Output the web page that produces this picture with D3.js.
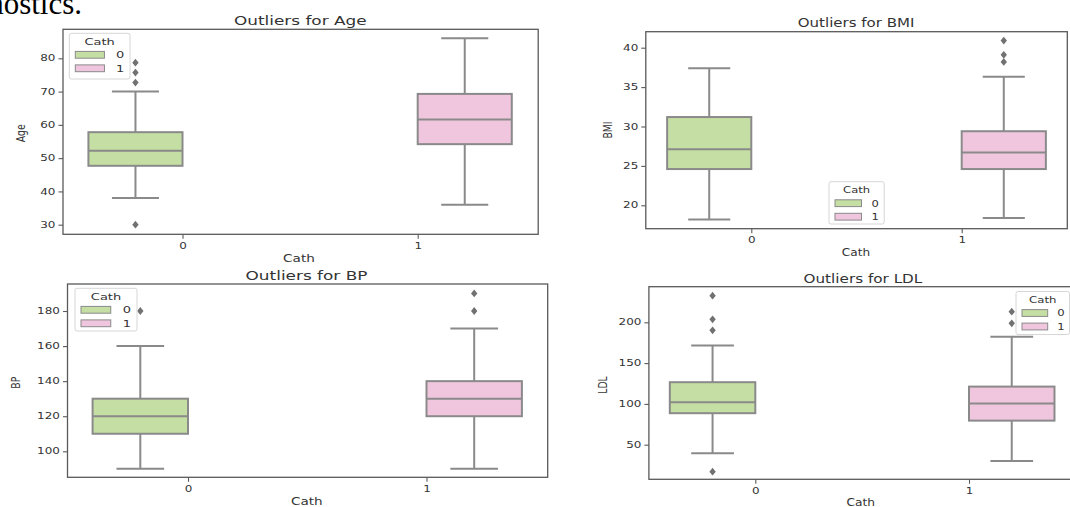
<!DOCTYPE html>
<html>
<head>
<meta charset="utf-8">
<script src="https://cdn.jsdelivr.net/npm/d3@7"></script>
<style>
  body { margin: 0; background: #fff; }
  svg { display: block; }
  text { font-family: 'DejaVu Sans', sans-serif; fill: #333; }
</style>
</head>
<body>
<div id="chart"></div>
<script>
// categories / hue
const cathCats = ['0', '1']
const hueColors = ['#c5dea3', '#f0c6df']

// box stats per Cath group: [lowWhisker, q1, median, q3, highWhisker]
const ageStats = [[38, 47.7, 52.2, 57.8, 70], [36, 54.2, 61.6, 69.3, 86]]
const ageFliers = [[78.7, 75.7, 72.7, 30], []]
const ageTicks = [30, 40, 50, 60, 70, 80]

const bmiStats = [[18.2, 24.6, 27.1, 31.2, 37.4], [18.4, 24.6, 26.7, 29.4, 36.3]]
const bmiFliers = [[], [40.9, 39.1, 38.2]]
const bmiTicks = [20, 25, 30, 35, 40]

const bpStats = [[90, 110, 120, 130, 160], [90, 120, 130, 140, 170]]
const bpFliers = [[180], [190, 180]]
const bpTicks = [100, 120, 140, 160, 180]

const ldlStats = [[39.5, 88.6, 102, 126.6, 171.6], [30, 79.5, 100.4, 121.2, 182.4]]
const ldlFliers = [[232.6, 203.7, 190.2, 16.9], [213, 198.8]]
const ldlTicks = [50, 100, 150, 200]

const width = 1070, height = 507

const svg = d3.select('#chart').append('svg')
  .attr('width', width)
  .attr('height', height)

// leftover paragraph text from the page above the figure
svg.append('text')
  .attr('x', 82).attr('y', 14)
  .attr('text-anchor', 'end')
  .style('font-family', "'Liberation Serif', serif")
  .style('fill', '#000')
  .attr('font-size', 31)
  .text('nostics.')

// layout of each subplot (pixels); k = how wide that subplot's text is drawn
const panels = [
  {name: 'Age', stats: ageStats, fliers: ageFliers, ticks: ageTicks, k: 1,
    frame: {l: 63, r: 538.2, t: 29.3, b: 234.3}, yRef: [30, 80], yPix: [224.7, 58.3], xPix: [182.5, 417.7],
    title: [300.3, 24.5], xlab: [299, 262], ylab: [20.7, 133.3], legend: {x: 69.3, y: 33.3, w: 60.7, h: 45.7}},
  {name: 'BMI', stats: bmiStats, fliers: bmiFliers, ticks: bmiTicks, k: 0.89,
    frame: {l: 645.8, r: 1067.3, t: 31.7, b: 228.7}, yRef: [20, 40], yPix: [205.3, 47.7], xPix: [751.3, 961.7],
    title: [856.1, 26.5], xlab: [856, 256], ylab: [607.6, 130], legend: {x: 829, y: 181.7, w: 55.2, h: 42.3}},
  {name: 'BP', stats: bpStats, fliers: bpFliers, ticks: bpTicks, k: 1,
    frame: {l: 67.5, r: 547.7, t: 284, b: 477.3}, yRef: [100, 180], yPix: [451.3, 311], xPix: [188, 426.5],
    title: [306.5, 280], xlab: [306.8, 505], ylab: [15.5, 382.7], legend: {x: 75, y: 288.3, w: 62, h: 42.7}},
  {name: 'LDL', stats: ldlStats, fliers: ldlFliers, ticks: ldlTicks, k: 0.9,
    frame: {l: 648.9, r: 1075, t: 286.7, b: 479.3}, yRef: [50, 200], yPix: [444.7, 322.3], xPix: [755.3, 969],
    title: [862.9, 282.5], xlab: [860.8, 505.5], ylab: [602.5, 385], legend: {x: 1016, y: 291.5, w: 53.5, h: 43}}
]

// text sizes: [horizontal, vertical] in px (the figure is stretched sideways)
const titleFont = [16.9, 11.8]
const tickFont = [12, 8.4]
const legendFont = [13, 9.2]
const labelFont = [13.6, 9.6]

const edge = '#8a8a8a'
const spine = '#5a5a5a'

// sideways diamond like matplotlib 'd'
const diamond = {
  draw(ctx, size) {
    const w = Math.sqrt(size) * 0.45, h = Math.sqrt(size) * 0.55
    ctx.moveTo(0, -h); ctx.lineTo(w, 0); ctx.lineTo(0, h); ctx.lineTo(-w, 0); ctx.closePath()
  }
}

function stext(g, x, y, str, font, k, anchor) {
  const sx = font[0] * k / font[1]
  return g.append('text')
    .attr('transform', `translate(${x},${y}) scale(${sx},1)`)
    .attr('font-size', font[1])
    .attr('text-anchor', anchor)
    .text(str)
}

panels.forEach(p => {
  const g = svg.append('g')
  const f = p.frame

  const y = d3.scaleLinear().domain(p.yRef).range(p.yPix)
  const x = d3.scaleLinear().domain([0, 1]).range(p.xPix)
  const boxW = x(0.4) - x(0)

  // boxes
  p.stats.forEach((s, i) => {
    const cx = x(i + (i === 0 ? -0.2 : 0.2))
    const [lo, q1, med, q3, hi] = s
    const bg = g.append('g').attr('stroke', edge).attr('stroke-width', 2)

    bg.append('line').attr('x1', cx).attr('x2', cx).attr('y1', y(lo)).attr('y2', y(q1))
    bg.append('line').attr('x1', cx).attr('x2', cx).attr('y1', y(q3)).attr('y2', y(hi))
    bg.append('line').attr('x1', cx - boxW / 4).attr('x2', cx + boxW / 4).attr('y1', y(lo)).attr('y2', y(lo))
    bg.append('line').attr('x1', cx - boxW / 4).attr('x2', cx + boxW / 4).attr('y1', y(hi)).attr('y2', y(hi))

    bg.append('rect')
      .attr('x', cx - boxW / 2).attr('width', boxW)
      .attr('y', y(q3)).attr('height', y(q1) - y(q3))
      .attr('fill', hueColors[i])
    bg.append('line').attr('x1', cx - boxW / 2).attr('x2', cx + boxW / 2).attr('y1', y(med)).attr('y2', y(med))

    g.selectAll(null)
      .data(p.fliers[i])
      .enter()
      .append('path')
      .attr('d', d3.symbol().type(diamond).size(50))
      .attr('transform', d => `translate(${cx},${y(d)})`)
      .attr('fill', '#717171')
  })

  // frame
  g.append('rect')
    .attr('x', f.l).attr('y', f.t)
    .attr('width', f.r - f.l).attr('height', f.b - f.t)
    .attr('fill', 'none')
    .attr('stroke', spine)
    .attr('stroke-width', 1.3)

  const tsx = tickFont[0] / tickFont[1]

  // y axis
  const ya = g.append('g')
    .attr('transform', `translate(${f.l},0)`)
    .call(d3.axisLeft(y).tickValues(p.ticks).tickSize(4.5).tickPadding(3))
  ya.select('.domain').remove()
  ya.selectAll('line').attr('stroke', spine).attr('stroke-width', 1.1)
  ya.selectAll('text')
    .attr('x', -7.5 / tsx)
    .attr('transform', `scale(${tsx},1)`)
    .attr('font-size', tickFont[1])
    .style('font-family', "'DejaVu Sans', sans-serif")
    .style('fill', '#333')

  // x axis
  const xa = g.append('g')
    .attr('transform', `translate(0,${f.b})`)
    .call(d3.axisBottom(x).tickValues([0, 1]).tickFormat(i => cathCats[i]).tickSize(4.5).tickPadding(3))
  xa.select('.domain').remove()
  xa.selectAll('line').attr('stroke', spine).attr('stroke-width', 1.1)
  xa.selectAll('text')
    .attr('y', 8.5)
    .attr('transform', `scale(${tsx},1)`)
    .attr('font-size', tickFont[1])
    .style('font-family', "'DejaVu Sans', sans-serif")
    .style('fill', '#333')

  // titles and labels
  stext(g, p.title[0], p.title[1], 'Outliers for ' + p.name, titleFont, p.k, 'middle')
  stext(g, p.xlab[0], p.xlab[1], 'Cath', labelFont, p.k, 'middle')
  g.append('text')
    .attr('transform', `translate(${p.ylab[0]},${p.ylab[1]}) scale(${1.4 * p.k},1) rotate(-90)`)
    .attr('font-size', 9.3)
    .attr('text-anchor', 'middle')
    .attr('dy', '0.35em')
    .text(p.name)

  // legend
  const L = p.legend
  const lg = g.append('g').attr('transform', `translate(${L.x},${L.y})`)
  lg.append('rect')
    .attr('width', L.w).attr('height', L.h)
    .attr('rx', 2)
    .attr('fill', '#fff').attr('fill-opacity', 0.85)
    .attr('stroke', '#d6d6d6')
  stext(lg, L.w / 2, 11.5, 'Cath', legendFont, p.k, 'middle')
  cathCats.forEach((c, i) => {
    const cy = 21.5 + i * 13.5
    lg.append('rect')
      .attr('x', 6).attr('y', cy - 3.4)
      .attr('width', L.w * 0.48).attr('height', 6.8)
      .attr('fill', hueColors[i])
      .attr('stroke', edge).attr('stroke-width', 1)
    stext(lg, L.w * 0.77, cy + 3.4, c, legendFont, p.k, 'start')
  })
})
</script>
</body>
</html>
